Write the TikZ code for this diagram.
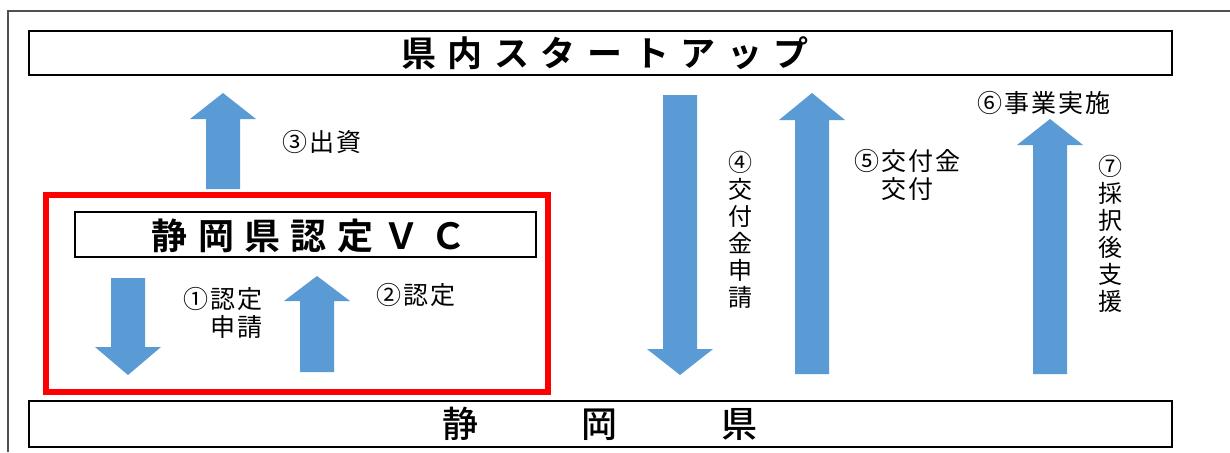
\documentclass[tikz,border=0pt]{standalone}
\usepackage{fontspec}
\newfontfamily\jpl{Noto Sans CJK JP}[LetterSpace=8]
\newfontfamily\jpv{Noto Sans CJK JP}
\newfontfamily\jpt{Noto Sans CJK JP Bold}[LetterSpace=33]
\newfontfamily\jpvc{Noto Sans CJK JP Bold}[LetterSpace=29]
\newfontfamily\jpbot{Noto Sans CJK JP Medium}
\definecolor{arrowblue}{HTML}{5B9BD5}
\definecolor{framegray}{HTML}{505050}
\definecolor{vcred}{HTML}{FF0000}
\newcommand\uparr[4]{% cx, tip, headbase, bottom
  \fill[blockarrow] (#1-17,#4) -- (#1-17,#3) -- (#1-33,#3) -- (#1,#2) -- (#1+33,#3) -- (#1+17,#3) -- (#1+17,#4) -- cycle;}
\newcommand\downarr[4]{% cx, top, headbase, tip
  \fill[blockarrow] (#1-17,#2) -- (#1-17,#3) -- (#1-33,#3) -- (#1,#4) -- (#1+33,#3) -- (#1+17,#3) -- (#1+17,#2) -- cycle;}
\begin{document}
\begin{tikzpicture}[x=1pt,y=-1pt,
  blockarrow/.style={fill=arrowblue},
  bar/.style={draw=black,line width=1.8pt,fill=white},
  lbl/.style={font=\jpl\fontsize{25}{28}\selectfont,inner sep=0pt},
  vlbl/.style={font=\jpv\fontsize{24}{27}\selectfont,inner sep=0pt,align=center}]
\useasboundingbox (0,0) rectangle (1230,452);
\fill[white] (0,0) rectangle (1230,452);
% outer frame
\draw[framegray,line width=1.5pt] (8,452) -- (8,11) -- (1230,11);
% top and bottom bars
\draw[bar] (29,31) rectangle (1172,75);
\node[font=\jpt\fontsize{35}{38}\selectfont,inner sep=0pt] (startup) at (605,53) {県内スタートアップ};
\draw[bar] (29,401) rectangle (1172,447);
\node[font=\jpbot\fontsize{36}{40}\selectfont,inner sep=0pt] (pref) at (600,424) {静\hspace{104pt}岡\hspace{104pt}県};
% red box
\draw[vcred,line width=6.5pt] (46,195) rectangle (548,392);
\draw[bar,line width=1.5pt] (75,212) rectangle (536,257);
\node[font=\jpvc\fontsize{36}{40}\selectfont,inner sep=0pt] (vc) at (309,236) {静岡県認定ＶＣ};
% arrows
\uparr{223}{93}{119}{189}
\downarr{128}{278}{347}{375}
\uparr{317}{276}{301}{372}
\downarr{680}{95}{349}{375}
\uparr{812}{93}{120}{374}
\uparr{1050}{119}{145}{374}
% labels
\node[lbl,anchor=west] (l3) at (282,142) {③出資};
\node[lbl,anchor=east,align=right] (l1) at (263,313) {①認定\\申請};
\node[lbl,anchor=west] (l2) at (376,295) {②認定};
\node[vlbl] (l4) at (740,230) {④\\交\\付\\金\\申\\請};
\node[lbl,align=center] (l5) at (907,175) {⑤交付金\\交付};
\node[lbl] (l6) at (1044,103) {⑥事業実施};
\node[vlbl] (l7) at (1110,234) {⑦\\採\\択\\後\\支\\援};
\end{tikzpicture}
\end{document}
